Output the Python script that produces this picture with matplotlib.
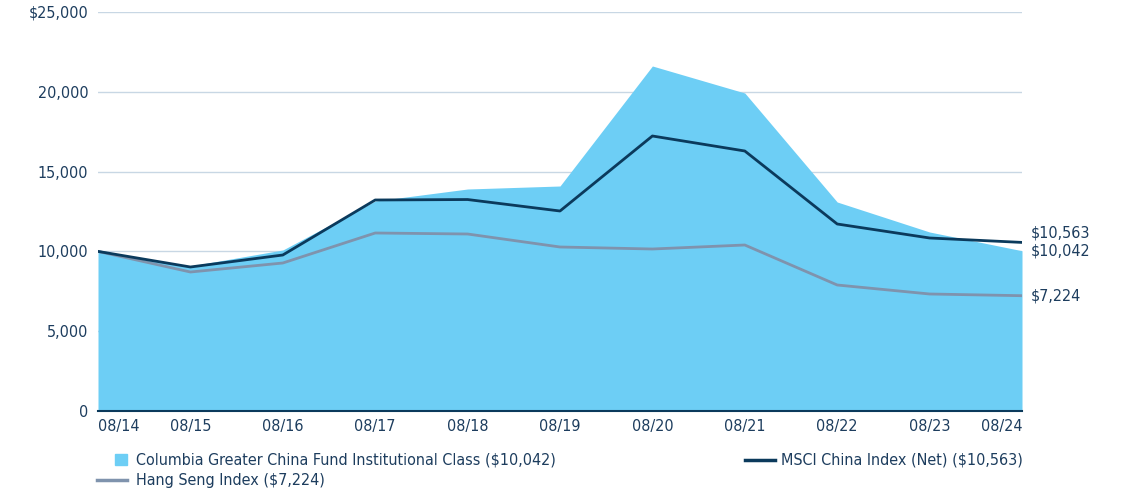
import matplotlib.pyplot as plt
from matplotlib.lines import Line2D
from matplotlib.patches import Rectangle

plt.rcParams['font.family'] = ['DejaVu Sans']
plt.rcParams['font.stretch'] = 'condensed'

# data
dates = ['08/14', '08/15', '08/16', '08/17', '08/18', '08/19',
         '08/20', '08/21', '08/22', '08/23', '08/24']
fund = [10000, 9085, 10088, 13158, 13910, 14098, 21617, 19925, 13095, 11215, 10042]
msci = [10000, 9023, 9774, 13221, 13250, 12531, 17231, 16291, 11717, 10840, 10563]
hang_seng = [10000, 8709, 9273, 11153, 11090, 10276, 10150, 10401, 7895, 7331, 7224]

fund_color = '#6dcef5'
msci_color = '#0b3a5c'
hs_color = '#7f93ad'
text_color = '#1d3d5e'
grid_color = '#c8d7e4'
fs = 11.5

fig = plt.figure(figsize=(11.21, 4.94), dpi=100)
ax = fig.add_axes([98 / 1121, 1 - 411 / 494, (1022 - 98) / 1121, (411 - 12) / 494])

x = list(range(len(dates)))
ax.fill_between(x, 0, fund, color=fund_color, lw=0, zorder=2)
ax.plot(x, hang_seng, color=hs_color, lw=2, zorder=3)
ax.plot(x, msci, color=msci_color, lw=2, zorder=4)

ax.set_xlim(0, len(dates) - 1)
ax.set_ylim(0, 25000)
ax.set_yticks(range(0, 25001, 5000))
ax.set_yticklabels(['0', '5,000', '10,000', '15,000', '20,000', '$25,000'])
ax.set_xticks(x)
ax.set_xticklabels(dates)
lbls = ax.get_xticklabels()
lbls[0].set_ha('left')
lbls[-1].set_ha('right')

ax.grid(axis='y', color=grid_color, lw=1, zorder=1)
ax.set_axisbelow(True)
for s in ['top', 'right', 'left']:
    ax.spines[s].set_visible(False)
ax.spines['bottom'].set_color(msci_color)
ax.spines['bottom'].set_linewidth(1.5)
ax.spines['bottom'].set_zorder(5)
ax.tick_params(length=0, labelsize=fs, colors=text_color)
ax.tick_params(axis='x', pad=6)
ax.tick_params(axis='y', pad=7)

# end labels
last = len(dates) - 1
ax.annotate('$10,563', (last, msci[-1]), xytext=(6, 7), textcoords='offset points',
            va='center', fontsize=fs, color=text_color, annotation_clip=False)
ax.annotate('$10,042', (last, fund[-1]), xytext=(6, 0), textcoords='offset points',
            va='center', fontsize=fs, color=text_color, annotation_clip=False)
ax.annotate('$7,224', (last, hang_seng[-1]), xytext=(6, 0), textcoords='offset points',
            va='center', fontsize=fs, color=text_color, annotation_clip=False)

# legend
W, H = 1121, 494
def fy(py):
    return 1 - py / H

fig.patches.append(Rectangle((115 / W, fy(465)), 12 / W, 11 / H, color=fund_color,
                             transform=fig.transFigure))
fig.text(136 / W, fy(460), 'Columbia Greater China Fund Institutional Class ($10,042)',
         va='center', fontsize=fs, color=text_color)
fig.lines.append(Line2D([745 / W, 775 / W], [fy(460), fy(460)], color=msci_color, lw=2.5,
                        transform=fig.transFigure))
fig.text(781 / W, fy(460), 'MSCI China Index (Net) ($10,563)',
         va='center', fontsize=fs, color=text_color)
fig.lines.append(Line2D([97 / W, 127 / W], [fy(480), fy(480)], color=hs_color, lw=2.5,
                        transform=fig.transFigure))
fig.text(136 / W, fy(480), 'Hang Seng Index ($7,224)',
         va='center', fontsize=fs, color=text_color)

fig.savefig('out.png', dpi=100)
